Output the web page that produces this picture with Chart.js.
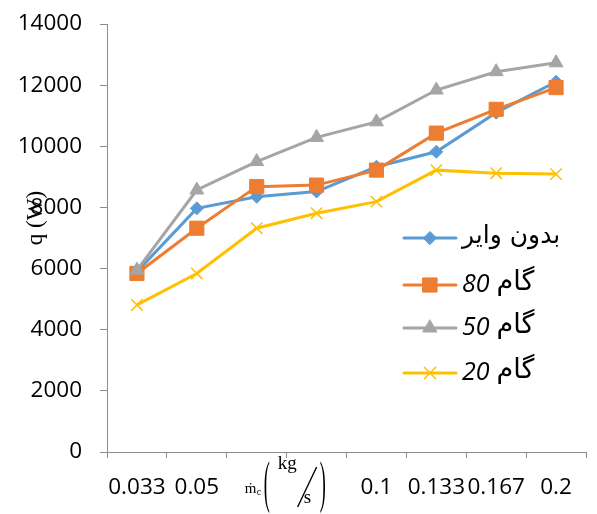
<!DOCTYPE html>
<html>
<head>
<meta charset="utf-8">
<script src="https://cdn.jsdelivr.net/npm/chart.js@4.4.0/dist/chart.umd.min.js"></script>
<style>
  html, body { margin: 0; background: #fff; }
  #wrap { width: 597px; height: 514px; }
</style>
</head>
<body>
<div id="wrap"><canvas id="chart"></canvas></div>
<script>
// mass flow rate categories (kg/s); the 3rd and 4th are left blank in the original
const categories = ['0.033', '0.05', '', '', '0.1', '0.133', '0.167', '0.2'];

// heat transfer rate q (W)
const noWire  = [5900, 7970, 8350, 8520, 9330, 9820, 11100, 12110];
const pitch80 = [5840, 7320, 8680, 8730, 9220, 10430, 11210, 11920];
const pitch50 = [5950, 8570, 9500, 10290, 10800, 11840, 12440, 12730];
const pitch20 = [4810, 5840, 7320, 7810, 8190, 9220, 9120, 9090];

const seriesNames = ['بدون وایر', 'گام 80', 'گام 50', 'گام 20'];
const yMin = 0, yMax = 14000, yStep = 2000;

const tickFont = { family: 'Open Sans', size: 22.5 };
const axisColor = '#8c8c8c';

function makeSet(label, data, color, style, radius, order) {
  return {
    label, data, order,
    borderColor: color,
    backgroundColor: color,
    borderWidth: 3,
    pointStyle: style,
    pointRadius: radius,
    pointHoverRadius: radius,
    pointBorderWidth: style === 'crossRot' ? 1.5 : 1,
    pointBorderColor: color,
    pointBackgroundColor: color,
    tension: 0
  };
}

// titles and in-plot legend
const extras = {
  id: 'extras',
  afterDraw(chart) {
    const ctx = chart.ctx;
    const area = chart.chartArea;
    const x = chart.scales.x;

    // y axis title
    ctx.save();
    ctx.fillStyle = '#000';
    ctx.font = '23px "Liberation Serif"';
    ctx.textAlign = 'center';
    ctx.textBaseline = 'middle';
    ctx.translate(36, area.top + 194);
    ctx.rotate(-Math.PI / 2);
    ctx.fillText('q (W)', 0, 0);
    ctx.restore();

    // x axis title: m-dot c (kg/s), between the blank categories
    const cx = (x.getPixelForValue(2) + x.getPixelForValue(3)) / 2;
    const by = area.bottom;
    ctx.save();
    ctx.fillStyle = '#000';
    ctx.strokeStyle = '#000';
    ctx.textBaseline = 'alphabetic';
    ctx.textAlign = 'left';
    ctx.font = '15px "Liberation Serif"';
    ctx.fillText('ṁ', cx - 42, by + 41);
    ctx.font = '10px "Liberation Serif"';
    ctx.fillText('c', cx - 30, by + 43);
    ctx.font = '19px "Liberation Serif"';
    ctx.fillText('kg', cx - 9, by + 17);
    ctx.fillText('s', cx + 17, by + 51);
    ctx.lineWidth = 1.4;
    ctx.beginPath();
    ctx.moveTo(cx + 11, by + 55);
    ctx.lineTo(cx + 30, by + 15);
    ctx.stroke();
    ctx.font = '28px "Liberation Serif"';
    ctx.save();
    ctx.translate(cx - 23, by + 49);
    ctx.scale(0.65, 2.05);
    ctx.fillText('(', 0, 0);
    ctx.restore();
    ctx.save();
    ctx.translate(cx + 33, by + 49);
    ctx.scale(0.65, 2.05);
    ctx.fillText(')', 0, 0);
    ctx.restore();
    ctx.restore();

    // legend
    const lx = area.left + 297;
    const rows = [area.top + 214, area.top + 261, area.top + 304, area.top + 349];
    chart.data.datasets.forEach((ds, i) => {
      const y = rows[i];
      ctx.save();
      ctx.strokeStyle = ds.borderColor;
      ctx.lineWidth = 3;
      ctx.lineCap = 'round';
      ctx.beginPath();
      ctx.moveTo(lx, y);
      ctx.lineTo(lx + 52, y);
      ctx.stroke();
      ctx.fillStyle = ds.backgroundColor;
      ctx.lineWidth = ds.pointBorderWidth;
      Chart.helpers.drawPoint(ctx, {
        pointStyle: ds.pointStyle, radius: ds.pointRadius,
        rotation: 0, borderWidth: ds.pointBorderWidth
      }, lx + 26, y);
      ctx.restore();

      ctx.save();
      ctx.fillStyle = '#000';
      ctx.textBaseline = 'middle';
      ctx.textAlign = 'left';
      const m = ds.label.match(/^(.*) (\d+)$/);
      const tx = lx + 58;
      if (m) {
        ctx.font = 'italic 25px "Open Sans"';
        ctx.fillText(m[2], tx, y);
        const w = ctx.measureText(m[2]).width + 7;
        ctx.font = '27px "DejaVu Sans"';
        ctx.direction = 'rtl';
        ctx.textAlign = 'left';
        ctx.fillText(m[1], tx + w, y - 2);
      } else {
        ctx.font = '25px "DejaVu Sans"';
        ctx.direction = 'rtl';
        ctx.textAlign = 'left';
        ctx.fillText(ds.label, tx, y - 2);
      }
      ctx.restore();
    });
  }
};

new Chart(document.getElementById('chart'), {
  type: 'line',
  data: {
    labels: categories,
    datasets: [
      makeSet(seriesNames[0], noWire,  '#5B9BD5', 'rectRot', 6.5, 4),
      makeSet(seriesNames[1], pitch80, '#ED7D31', 'rect', 10, 3),
      makeSet(seriesNames[2], pitch50, '#A5A5A5', 'triangle', 8, 2),
      makeSet(seriesNames[3], pitch20, '#FFC000', 'crossRot', 8, 1)
    ]
  },
  options: {
    responsive: true,
    maintainAspectRatio: false,
    animation: false,
    layout: { padding: { top: 24, right: 7, left: 0, bottom: 0 } },
    plugins: {
      legend: { display: false },
      tooltip: { enabled: false }
    },
    scales: {
      x: {
        offset: true,
        grid: {
          display: true, drawOnChartArea: false, drawTicks: true,
          tickLength: 6, color: axisColor, offset: true
        },
        border: { color: axisColor, width: 1 },
        ticks: { color: '#000', font: tickFont, padding: 16, maxRotation: 0, autoSkip: false },
        afterFit(scale) { scale.height = 62; }
      },
      y: {
        min: yMin, max: yMax,
        grid: {
          display: true, drawOnChartArea: false, drawTicks: true,
          tickLength: 7, color: axisColor
        },
        border: { color: axisColor, width: 1 },
        ticks: {
          color: '#000', font: tickFont, stepSize: yStep, padding: 18,
          callback: (v) => String(v)
        },
        afterFit(scale) {
          scale.width = 107;
          scale.paddingTop = 0;
          scale.paddingBottom = 0;
        }
      }
    }
  },
  plugins: [extras]
});
</script>
</body>
</html>
